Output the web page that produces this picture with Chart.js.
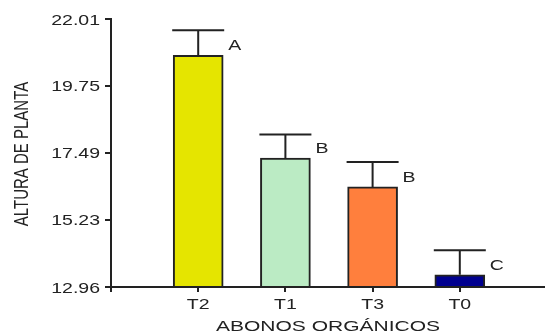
<!DOCTYPE html>
<html>
<head>
<meta charset="utf-8">
<script src="https://cdn.jsdelivr.net/npm/chart.js@4.4.1/dist/chart.umd.min.js"></script>
<style>
  html, body { margin: 0; padding: 0; background: #fff; overflow: hidden; }
  #wrap { width: 547px; height: 335px; }
</style>
</head>
<body>
<div id="wrap"><canvas id="c" width="547" height="335"></canvas></div>
<script>
// Plant height by organic fertiliser treatment
const categories = ['T2', 'T1', 'T3', 'T0'];
const meanHeight = [20.78, 17.31, 16.34, 13.37];
const errorSD = [0.85, 0.80, 0.84, 0.83];
const groupLetters = ['A', 'B', 'B', 'C'];
const barColors = ['#E5E500', '#BBEBC4', '#FF7F3D', '#00008F'];
const yTickValues = [12.96, 15.23, 17.49, 19.75, 22.01];
const yTickLabels = ['12.96', '15.23', '17.49', '19.75', '22.01'];
const xTitle = 'ABONOS ORGÁNICOS';
const yTitle = 'ALTURA DE PLANTA';

const INK = '#222';
const FONT = "15px 'Liberation Sans', Arial, sans-serif";
const STRETCH = 1.3;

// empty slots on both ends leave a full category gap beside the axes
const labels = [''].concat(categories, ['']);
const values = [null].concat(meanHeight, [null]);
const colors = ['#fff'].concat(barColors, ['#fff']);

function wideText(ctx, text, x, y, align, sx) {
  ctx.save();
  ctx.translate(x, y);
  ctx.scale(sx, 1);
  ctx.textAlign = align;
  ctx.fillText(text, 0, 0);
  ctx.restore();
}

const annotate = {
  id: 'annotate',
  afterDatasetsDraw(chart) {
    const ctx = chart.ctx;
    const ys = chart.scales.y;
    const area = chart.chartArea;
    const meta = chart.getDatasetMeta(0);
    ctx.save();
    ctx.font = FONT;
    ctx.fillStyle = INK;
    ctx.strokeStyle = INK;
    ctx.lineWidth = 2;
    ctx.textBaseline = 'alphabetic';

    categories.forEach((cat, i) => {
      const bar = meta.data[i + 1];
      const half = bar.width / 2;
      const top = ys.getPixelForValue(meanHeight[i]);
      const hi = ys.getPixelForValue(meanHeight[i] + errorSD[i]);
      // upper error whisker with cap
      ctx.beginPath();
      ctx.moveTo(bar.x, top);
      ctx.lineTo(bar.x, hi);
      ctx.moveTo(bar.x - half - 1, hi);
      ctx.lineTo(bar.x + half + 1, hi);
      ctx.stroke();
      // significance letter
      wideText(ctx, groupLetters[i], bar.x + half + 5, top - 5, 'left', STRETCH);
      // category label
      wideText(ctx, cat, bar.x, area.bottom + 22, 'center', STRETCH);
    });

    // value labels on the y axis
    yTickValues.forEach((v, i) => {
      const y = ys.getPixelForValue(v);
      wideText(ctx, yTickLabels[i], area.left - 11, y + 5.5, 'right', STRETCH);
    });

    // axis titles
    wideText(ctx, xTitle, (area.left + 545) / 2, area.bottom + 44, 'center', 1.4);
    ctx.save();
    ctx.translate(28, (area.top + area.bottom) / 2 + 1);
    ctx.scale(STRETCH, 1);
    ctx.rotate(-Math.PI / 2);
    ctx.textAlign = 'center';
    ctx.fillText(yTitle, 0, 0);
    ctx.restore();

    ctx.restore();
  }
};

new Chart(document.getElementById('c'), {
  type: 'bar',
  data: {
    labels: labels,
    datasets: [{
      data: values,
      base: yTickValues[0],
      backgroundColor: colors,
      borderColor: INK,
      borderWidth: 2,
      borderSkipped: 'start',
      barThickness: 50
    }]
  },
  options: {
    responsive: false,
    animation: false,
    layout: { padding: { top: 19, right: 0, bottom: 0, left: 0 } },
    plugins: { legend: { display: false }, tooltip: { enabled: false } },
    scales: {
      x: {
        offset: false,
        ticks: { display: false },
        grid: { display: true, offset: false, drawOnChartArea: false, drawTicks: true, tickLength: 5, color: INK, lineWidth: 2 },
        border: { display: true, color: INK, width: 2 },
        afterFit(scale) { scale.height = 48; }
      },
      y: {
        min: yTickValues[0],
        max: yTickValues[yTickValues.length - 1],
        afterBuildTicks(scale) { scale.ticks = yTickValues.map(v => ({ value: v })); },
        ticks: { display: false },
        grid: { display: true, drawOnChartArea: false, drawTicks: true, tickLength: 6, color: INK, lineWidth: 2 },
        border: { display: true, color: INK, width: 2 },
        afterFit(scale) { scale.width = 111; }
      }
    }
  },
  plugins: [annotate]
});
</script>
</body>
</html>
